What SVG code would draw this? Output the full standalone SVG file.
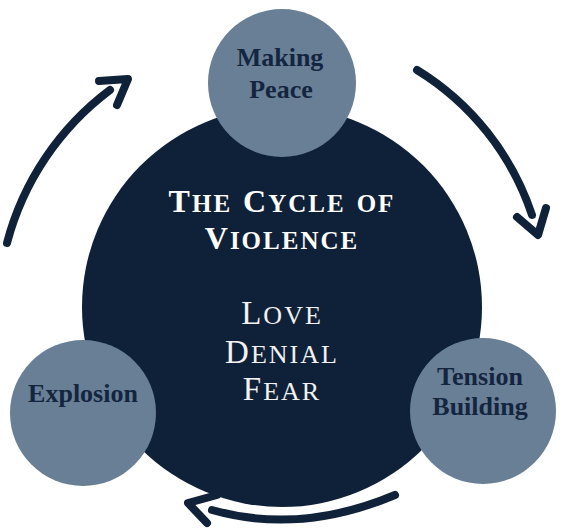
<svg xmlns="http://www.w3.org/2000/svg" width="561" height="532" viewBox="0 0 561 532">
<style>
.main{fill:#0f2139}
.node{fill:#687f96}
.lbl{font-family:"Liberation Serif","Times New Roman",serif;font-weight:bold;font-size:26px;fill:#142540;text-anchor:middle}
.title{font-family:"Liberation Serif","Times New Roman",serif;font-weight:bold;fill:#ffffff;text-anchor:middle;letter-spacing:2px}
.sub{font-family:"Liberation Serif","Times New Roman",serif;font-weight:normal;fill:#f2f2f2;text-anchor:middle;letter-spacing:2px}
.tb{font-size:32px}
.ts{font-size:36px;font-variant:small-caps}
.sb{font-size:33px}
.ss{font-size:37px;font-variant:small-caps}
.arr{fill:none;stroke:#10223a;stroke-width:8;stroke-linecap:round;stroke-linejoin:round}
</style>
<rect width="561" height="532" fill="#ffffff"/>
<g id="center">
<circle class="main" cx="282" cy="307" r="200"/>
<text class="title" x="282" y="212"><tspan class="tb">T</tspan><tspan class="ts">he </tspan><tspan class="tb">C</tspan><tspan class="ts">ycle of</tspan></text>
<text class="title" x="282" y="249"><tspan class="tb">V</tspan><tspan class="ts">iolence</tspan></text>
<text class="sub" x="282" y="324"><tspan class="sb">L</tspan><tspan class="ss">ove</tspan></text>
<text class="sub" x="282" y="363"><tspan class="sb">D</tspan><tspan class="ss">enial</tspan></text>
<text class="sub" x="282" y="400"><tspan class="sb">F</tspan><tspan class="ss">ear</tspan></text>
</g>
<g id="making-peace">
<circle class="node" cx="282" cy="83" r="74"/>
<text class="lbl" x="280" y="66">Making</text>
<text class="lbl" x="281" y="98">Peace</text>
</g>
<g id="explosion">
<circle class="node" cx="83" cy="413" r="73"/>
<text class="lbl" x="83" y="402">Explosion</text>
</g>
<g id="tension-building">
<circle class="node" cx="483" cy="411" r="73"/>
<text class="lbl" x="480" y="385">Tension</text>
<text class="lbl" x="480" y="415">Building</text>
</g>
<g id="connectors">
<path class="arr" d="M7,243 A280,280 0 0 1 110,90"/>
<path class="arr" d="M99,81 L128,79 L117,105"/>
<path class="arr" d="M417,70 A270,270 0 0 1 532,215"/>
<path class="arr" d="M517,217 L538,235 L546,208"/>
<path class="arr" d="M395,495 Q300,535 212,510"/>
<path class="arr" d="M217,495 L188,503 L207,523"/>
</g>
</svg>
